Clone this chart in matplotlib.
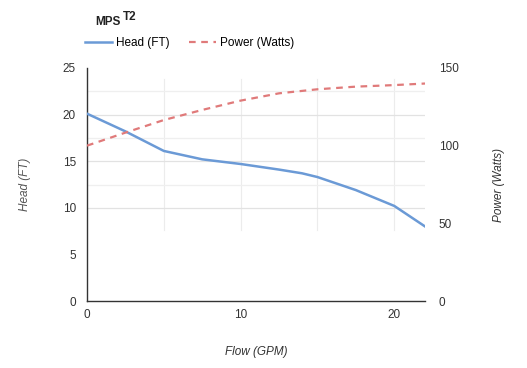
import matplotlib
matplotlib.use("Agg")
import matplotlib.pyplot as plt

flow = [0, 2.5, 5, 7.5, 10, 12.5, 14, 15, 17.5, 20, 22]
head = [20.1, 18.2, 16.1, 15.2, 14.7, 14.1, 13.7, 13.3, 11.9, 10.2, 8.0]
power_flow = [0, 2.5, 5, 7.5, 10, 12.5, 15, 17.5, 20, 22]
power = [100, 108.4, 116.5, 123, 129, 133.7, 136.3, 138, 139, 140]

plt.rcParams['font.family'] = ['Liberation Sans', 'DejaVu Sans']

W, H = 527, 368
fig = plt.figure(figsize=(W/100, H/100), dpi=100)
ax = fig.add_axes([87/W, 1-301/H, (425-87)/W, (301-68)/H])
ax2 = ax.twinx()

for v in [5, 10, 15, 20]:
    ax.plot([v, v], [7.6, 23.8], color='#ececec', lw=0.8, zorder=0)
for v, c in [(10, '#e2e2e2'), (12.5, '#efefef'), (15, '#e2e2e2'), (17.5, '#efefef'), (20, '#e2e2e2'), (22.5, '#efefef')]:
    ax.axhline(v, color=c, lw=0.9, zorder=0)

head_c = '#6b9ad6'
pow_c = '#e07a7a'
l1, = ax.plot(flow, head, color=head_c, lw=1.8, label='Head (FT)', zorder=3)
l2, = ax2.plot(power_flow, power, color=pow_c, lw=1.6, ls=(0, (3, 2.5)), label='Power (Watts)', zorder=3)

ax.set_xlim(0, 22)
ax.set_ylim(0, 25)
ax2.set_ylim(0, 150)
ax.set_xticks([0, 10, 20])
ax.set_yticks([0, 5, 10, 15, 20, 25])
ax2.set_yticks([0, 50, 100, 150])

for a in (ax, ax2):
    for s in ['top', 'right']:
        a.spines[s].set_visible(False)
ax2.spines['left'].set_visible(False)
ax2.spines['bottom'].set_visible(False)
ax.spines['left'].set_color('#333333')
ax.spines['bottom'].set_color('#333333')
ax.spines['left'].set_linewidth(1.0)
ax.spines['bottom'].set_linewidth(1.0)

ax.tick_params(axis='both', length=0, labelsize=8.5, colors='#333333', pad=8)
ax.tick_params(axis='x', pad=6)
ax2.tick_params(axis='y', length=0, labelsize=8.5, colors='#333333', pad=10)

ax.set_xlabel('Flow (GPM)', fontsize=8.5, style='italic', color='#333333', labelpad=18)
ax.set_ylabel('Head (FT)', fontsize=8.5, style='italic', color='#555555', labelpad=23)
ax2.set_ylabel('Power (Watts)', fontsize=8.5, style='italic', color='#333333', labelpad=25)

fig.text(95/W, 1-22/H, 'MPS', fontsize=8.5, fontweight='bold', color='#222222', va='center', ha='left')
fig.text(123/W, 1-17/H, 'T2', fontsize=8.5, fontweight='bold', color='#222222', va='center', ha='left')

fig.legend(handles=[l1, l2], loc='center left', bbox_to_anchor=(85/W, 1-43/H), ncol=2,
           frameon=False, fontsize=8.5, handlelength=2.3, handletextpad=0.35, columnspacing=1.6,
           borderaxespad=0, borderpad=0)

fig.savefig('out.png', dpi=100)
